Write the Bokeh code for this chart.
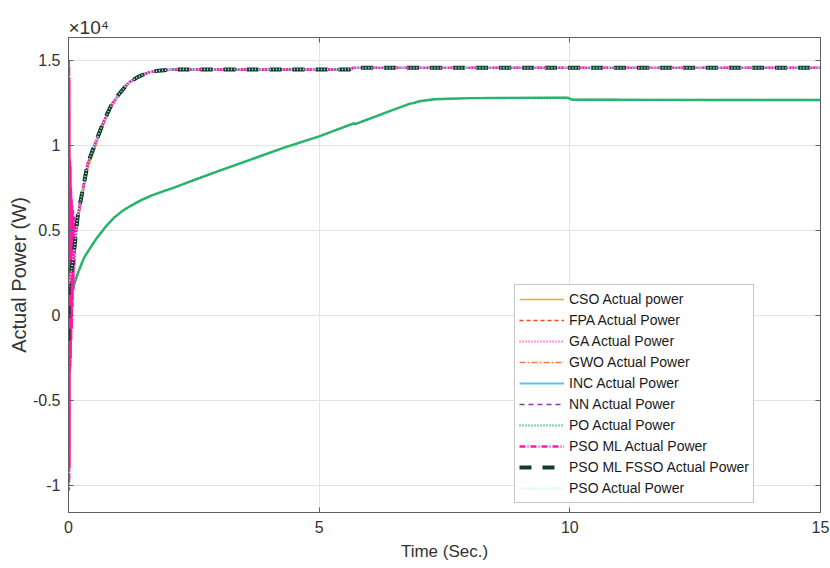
from bokeh.plotting import figure
from bokeh.models import (FixedTicker, LinearAxis, Legend, LegendItem,
                          Range1d)
from bokeh.embed import file_html
from bokeh.resources import INLINE

# ---------------- data ----------------
x_ticks = [0, 5, 10, 15]
y_ticks = [-10000, -5000, 0, 5000, 10000, 15000]
y_tick_labels = ["-1", "-0.5", "0", "0.5", "1", "1.5"]
exponent_text = "\u00d710\u2074"

# common fast-converging response (W) shared by most methods
t_fast = [0, 0.05, 0.12, 0.18, 0.28, 0.38, 0.55, 0.7, 0.85, 1.0, 1.2, 1.4,
          1.6, 1.8, 2.1, 2.5, 3.0, 4.0, 5.0, 5.63, 5.68, 6.0, 8.0, 10.0, 12.0, 15.0]
p_fast = [1700, 2470, 4000, 5780, 7330, 8900, 10250, 11400, 12350, 13000, 13700, 14050,
          14300, 14400, 14470, 14470, 14470, 14470, 14470, 14470, 14570, 14570, 14570, 14570, 14570, 14570]
# CSO / GWO rise a touch slower
p_cso = [1500, 2200, 3700, 5450, 7050, 8650, 10050, 11250, 12250, 12920, 13650, 14020,
         14280, 14390, 14470, 14470, 14470, 14470, 14470, 14470, 14570, 14570, 14570, 14570, 14570, 14570]

# start-up heads (time s, power W)
head_t_inc = [0, 0.003]
head_p_inc = [-1600, 1800]
head_t_fsso = [0, 0.003]
head_p_fsso = [-1500, 1700]
head_t_psoml = [0, 0.003, 0.006, 0.009, 0.012, 0.015, 0.018, 0.021, 0.025, 0.029,
                0.033, 0.037, 0.042, 0.047, 0.052, 0.058, 0.064, 0.07, 0.078, 0.086,
                0.095, 0.105, 0.115, 0.13, 0.15]
head_p_psoml = [0, 15000, -10300, 14700, -9800, 14000, -9000, 9200, -3300, 9100,
                -3000, 8800, -2500, 7600, -1500, 7000, -800, 6500, 500, 6200,
                1500, 5800, 2800, 4700, 5000]
head_t_ga = [0, 0.004, 0.008, 0.011, 0.014, 0.017, 0.02, 0.024, 0.028, 0.032,
             0.036, 0.04, 0.045, 0.05, 0.056, 0.062, 0.068, 0.075, 0.082, 0.09,
             0.1, 0.11, 0.12, 0.14]
head_p_ga = [200, 14800, -10000, 13500, -9000, 12000, -8000, 9300, -3000, 8500,
             -2800, 8200, -2000, 7300, -1000, 6800, 0, 6200, 1000, 5900,
             2000, 5500, 3500, 4600]

# PO (slow) response
t_po = [0, 0.05, 0.12, 0.2, 0.32, 0.45, 0.58, 0.75, 0.92, 1.08, 1.25, 1.45, 1.65, 1.9,
        2.12, 2.5, 3.0, 3.56, 4.3, 5.0, 5.69, 5.72, 6.3, 6.8, 6.9, 7.0, 7.3, 8.0, 9.0,
        9.95, 10.05, 11.0, 12.0, 13.0, 14.0, 15.0]
p_po = [300, 1200, 1900, 2600, 3440, 4050, 4610, 5250, 5780, 6150, 6460, 6780, 7040, 7310,
        7530, 7960, 8500, 9090, 9870, 10530, 11300, 11250, 11900, 12440, 12500, 12600, 12720,
        12780, 12800, 12810, 12690, 12685, 12680, 12675, 12670, 12670]

names = ["CSO Actual power", "FPA Actual Power", "GA Actual Power", "GWO Actual Power",
         "INC Actual Power", "NN Actual Power", "PO Actual Power", "PSO ML Actual Power",
         "PSO ML FSSO Actual Power", "PSO Actual Power"]


def with_head(ht, hp, t, p):
    last = ht[-1]
    tt = list(ht) + [a for a in t if a > last]
    pp = list(hp) + [b for a, b in zip(t, p) if a > last]
    return tt, pp


FONT = "Liberation Sans"

p = figure(width=830, height=568, output_backend="svg", toolbar_location=None,
           x_range=Range1d(0, 15), y_range=Range1d(-11600, 16350),
           min_border_left=68, min_border_right=10, min_border_top=37, min_border_bottom=56)
p.background_fill_color = "white"
p.border_fill_color = "white"
p.outline_line_color = "#606060"
p.outline_line_width = 1

# exponent shown as title at top-left
p.title.text = exponent_text
p.title.align = "left"
p.title.text_font = FONT
p.title.text_font_size = "19px"
p.title.text_font_style = "normal"
p.title.text_color = "#333333"
p.title.standoff = 0
p.title.offset = 0

p.xaxis.ticker = FixedTicker(ticks=x_ticks)
p.yaxis.ticker = FixedTicker(ticks=y_ticks)
p.yaxis.major_label_overrides = {v: s for v, s in zip(y_ticks, y_tick_labels)}
for ax in (p.xaxis[0], p.yaxis[0]):
    ax.major_tick_in = 5
    ax.major_tick_out = 0
    ax.minor_tick_line_color = None
    ax.axis_line_color = "#606060"
    ax.major_tick_line_color = "#606060"
    ax.major_label_text_font = FONT
    ax.major_label_text_font_size = "16px"
    ax.major_label_text_color = "#333333"
    ax.axis_label_text_font = FONT
    ax.axis_label_text_font_style = "normal"
    ax.axis_label_text_color = "#333333"
p.xaxis.axis_label = "Time (Sec.)"
p.xaxis.axis_label_text_font_size = "17px"
p.xaxis.major_label_standoff = 8
p.xaxis.axis_label_standoff = 6
p.yaxis.axis_label = "Actual Power (W)"
p.yaxis.axis_label_text_font_size = "20px"
p.yaxis.major_label_standoff = 8
p.yaxis.axis_label_standoff = 0

# box ticks on top and right
top_ax = LinearAxis(ticker=FixedTicker(ticks=x_ticks),
                    major_label_overrides={v: "" for v in x_ticks})
right_ax = LinearAxis(ticker=FixedTicker(ticks=y_ticks),
                      major_label_overrides={v: "" for v in y_ticks})
for ax in (top_ax, right_ax):
    ax.major_tick_in = 5
    ax.major_tick_out = 0
    ax.minor_tick_line_color = None
    ax.axis_line_color = "#606060"
    ax.major_tick_line_color = "#606060"
    ax.major_label_standoff = 0
    ax.major_label_text_font_size = "1px"
p.add_layout(top_ax, "above")
p.add_layout(right_ax, "right")

p.xgrid.grid_line_color = "#e3e3e3"
p.ygrid.grid_line_color = "#e3e3e3"

items = []

def add(name, t, v, color, width, dash, legend_dash=None):
    if legend_dash is not None:
        # legend sample drawn underneath the visible trace
        proxy = p.line(t, v, line_color=color, line_width=width, line_dash=legend_dash)
        items.append(LegendItem(label=name, renderers=[proxy]))
        p.line(t, v, line_color=color, line_width=width, line_dash=dash)
    else:
        r = p.line(t, v, line_color=color, line_width=width, line_dash=dash)
        items.append(LegendItem(label=name, renderers=[r]))

t_ga, v_ga = with_head(head_t_ga, head_p_ga, t_fast, p_fast)
t_inc, v_inc = with_head(head_t_inc, head_p_inc, t_fast, p_fast)
t_psoml, v_psoml = with_head(head_t_psoml, head_p_psoml, t_fast, p_fast)
t_fsso, v_fsso = with_head(head_t_fsso, head_p_fsso, t_fast, p_fast)

add(names[0], t_fast, p_cso, "#f2a91e", 1.6, "solid")
add(names[1], t_fast, p_fast, "#ff4422", 1.6, "4 3")
add(names[2], t_ga, v_ga, "#ff55c8", 2.4, "1 2")
add(names[3], t_fast, p_cso, "#ff7a3d", 1.6, "6 2 2 2")
add(names[4], t_inc, v_inc, "#5cc3ee", 2.2, "solid")
add(names[5], t_fast, p_fast, "#8a3aa6", 1.6, "5 4")
add(names[6], t_po, p_po, "#27b46b", 2.4, "solid", legend_dash="1 2")
add(names[7], t_psoml, v_psoml, "#ff1aa6", 2.6, "6 2 1 2")
add(names[8], t_fsso, v_fsso, "#113d2d", 4, "12 11")
add(names[9], t_fast, p_fast, "#bdeff6", 1.8, "1 2")

legend = Legend(items=items, location=(446, 9))
legend.label_text_font = FONT
legend.label_text_font_size = "14px"
legend.label_text_color = "#1a1a1a"
legend.glyph_width = 45
legend.glyph_height = 20
legend.label_height = 20
legend.label_standoff = 5
legend.spacing = 1
legend.padding = 4
legend.margin = 0
legend.border_line_color = "#8f8f8f"
legend.border_line_width = 1
legend.background_fill_color = "white"
legend.background_fill_alpha = 1
p.add_layout(legend, "center")

open("out.html", "w").write(file_html(p, INLINE))
